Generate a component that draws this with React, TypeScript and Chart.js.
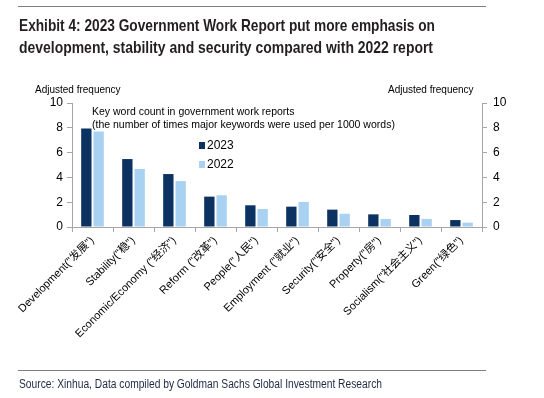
import React, { useEffect, useLayoutEffect, useRef } from "react";
import { Chart, registerables } from "chart.js";

Chart.register(...registerables);

const categories: string[] = [
  'Development("发展")',
  'Stability("稳")',
  'Economic/Economy ("经济")',
  'Reform ("改革")',
  'People("人民")',
  'Employment ("就业")',
  'Security("安全")',
  'Property("房")',
  'Socialism("社会主义")',
  'Green("绿色")',
];
const values2023: number[] = [7.95, 5.48, 4.27, 2.45, 1.75, 1.64, 1.4, 1.02, 0.97, 0.56];
const values2022: number[] = [7.7, 4.68, 3.7, 2.56, 1.45, 2.02, 1.07, 0.65, 0.65, 0.35];
const seriesNames: string[] = ["2023", "2022"];
const yTicks: number[] = [0, 2, 4, 6, 8, 10];

const DARK = "#0b3260";
const LIGHT = "#a9d1f1";
const AXIS = "#a6a6a6";
const FONT = '"Liberation Sans", Arial, "Noto Sans CJK SC", sans-serif';

function FitText(props: { x: number; y: number; width: number; size: number; bold?: boolean; color: string; text: string }) {
  const r = useRef<HTMLSpanElement | null>(null);
  useLayoutEffect(() => {
    const el = r.current;
    if (!el) return;
    const fit = () => {
      el.style.transform = "none";
      const w = el.getBoundingClientRect().width;
      if (w > 0) el.style.transform = `scaleX(${props.width / w})`;
    };
    fit();
    if ((document as any).fonts && (document as any).fonts.ready) (document as any).fonts.ready.then(fit);
  }, []);
  return (
    <span
      ref={r}
      style={{
        position: "absolute",
        left: props.x,
        top: props.y,
        whiteSpace: "nowrap",
        transformOrigin: "0 0",
        fontFamily: FONT,
        fontWeight: props.bold ? 700 : 400,
        fontSize: props.size,
        lineHeight: "1",
        color: props.color,
      }}
    >
      {props.text}
    </span>
  );
}

export default function App() {
  const ref = useRef<HTMLCanvasElement | null>(null);

  useEffect(() => {
    if (!ref.current) return;
    const chart = new Chart(ref.current, {
      type: "bar",
      data: {
        labels: categories,
        datasets: [
          { label: seriesNames[0], data: values2023, backgroundColor: DARK, barPercentage: 0.84, categoryPercentage: 0.6 },
          { label: seriesNames[1], data: values2022, backgroundColor: LIGHT, barPercentage: 0.84, categoryPercentage: 0.6 },
        ],
      },
      options: {
        responsive: false,
        animation: false,
        events: [],
        layout: { padding: { top: 103, left: 0, right: 0, bottom: 0 } },
        plugins: { legend: { display: false }, tooltip: { enabled: false }, title: { display: false } },
        scales: {
          x: {
            offset: true,
            border: { display: true, color: AXIS, width: 1 },
            grid: { display: true, offset: true, drawOnChartArea: false, drawTicks: true, tickLength: 5, color: AXIS },
            ticks: {
              autoSkip: false,
              maxRotation: 45,
              minRotation: 45,
              padding: 2,
              color: "#000",
              font: { family: FONT, size: 11 },
            },
            afterFit: (s: any) => { s.height = 171; },
          },
          y: {
            position: "left",
            min: 0,
            max: 10,
            afterBuildTicks: (s: any) => { s.ticks = yTicks.map((v) => ({ value: v })); },
            border: { display: true, color: AXIS, width: 1 },
            grid: { display: true, drawOnChartArea: false, drawTicks: true, tickLength: 5, color: AXIS },
            ticks: { color: "#000", padding: 4, font: { family: FONT, size: 12 } },
            afterFit: (s: any) => { s.width = 72; },
          },
          y2: {
            position: "right",
            min: 0,
            max: 10,
            afterBuildTicks: (s: any) => { s.ticks = yTicks.map((v) => ({ value: v })); },
            border: { display: true, color: AXIS, width: 1 },
            grid: { display: true, drawOnChartArea: false, drawTicks: true, tickLength: 5, color: AXIS },
            ticks: { color: "#000", padding: 6, font: { family: FONT, size: 12 } },
            afterFit: (s: any) => { s.width = 62; },
          },
        },
      },
    });
    return () => chart.destroy();
  }, []);

  const abs = (x: number, y: number, extra: React.CSSProperties = {}): React.CSSProperties => ({
    position: "absolute",
    left: x,
    top: y,
    whiteSpace: "nowrap",
    ...extra,
  });

  return (
    <div style={{ position: "fixed", left: 0, top: 0, width: 544, height: 398, background: "#fff", overflow: "hidden" }}>
      <canvas ref={ref} width={544} height={398} style={{ position: "absolute", left: 0, top: 0, width: 544, height: 398 }} />
      <div style={abs(18, 6, { width: 468, height: 1, background: "#7f7f7f" })} />
      <FitText x={19} y={17} width={416} size={17} bold color="#231f20" text="Exhibit 4: 2023 Government Work Report put more emphasis on" />
      <FitText x={19} y={39} width={414} size={17} bold color="#231f20" text="development, stability and security compared with 2022 report" />
      <div style={abs(35, 84, { fontFamily: FONT, fontSize: 10, color: "#000" })}>Adjusted frequency</div>
      <div style={abs(388, 84, { fontFamily: FONT, fontSize: 10, color: "#000" })}>Adjusted frequency</div>
      <div style={abs(92, 105, { fontFamily: FONT, fontSize: 10.5, lineHeight: "13px", color: "#000" })}>
        Key word count in government work reports
        <br />
        (the number of times major keywords were used per 1000 words)
      </div>
      <div style={abs(199, 138, { fontFamily: FONT, fontSize: 12, color: "#000", display: "flex", alignItems: "center" })}>
        <span style={{ display: "inline-block", width: 6, height: 7, background: DARK, marginRight: 2 }} />
        {seriesNames[0]}
      </div>
      <div style={abs(199, 157, { fontFamily: FONT, fontSize: 12, color: "#000", display: "flex", alignItems: "center" })}>
        <span style={{ display: "inline-block", width: 6, height: 7, background: LIGHT, marginRight: 2 }} />
        {seriesNames[1]}
      </div>
      <div style={abs(18, 370, { width: 468, height: 1, background: "#7f7f7f" })} />
      <FitText x={19} y={378} width={363} size={12} color="#1f2a44" text="Source: Xinhua, Data compiled by Goldman Sachs Global Investment Research" />
    </div>
  );
}
